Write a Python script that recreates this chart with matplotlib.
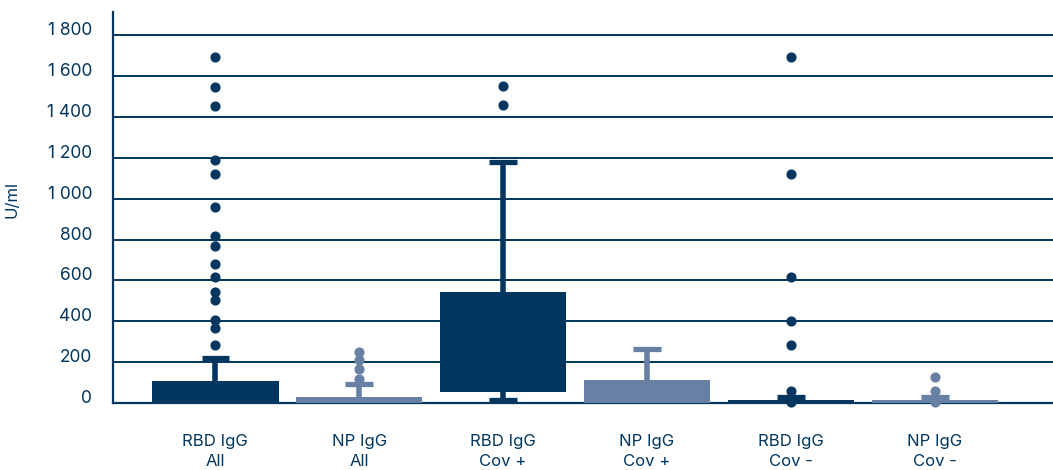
import matplotlib
matplotlib.use("Agg")
import matplotlib.pyplot as plt

# ---- data ----
categories = ["RBD IgG\nAll", "NP IgG\nAll", "RBD IgG\nCov +", "NP IgG\nCov +", "RBD IgG\nCov -", "NP IgG\nCov -"]
q1 = [0, 0, 55, 0, 0, 0]
q3 = [109, 29, 544, 114, 16, 16]
medians = [40, 10, 250, 40, 5, 5]
whislo = [0, 0, 16, 0, 0, 0]
whishi = [220, 93, 1179, 262, 29, 29]
fliers = [
    [1693, 1548, 1455, 1188, 1121, 958, 819, 769, 679, 617, 544, 506, 404, 365, 285],
    [252, 210, 168, 117],
    [1550, 1457],
    [],
    [1693, 1121, 617, 402, 284, 57, 3],
    [127, 57, 3],
]
yticks = [0, 200, 400, 600, 800, 1000, 1200, 1400, 1600, 1800]
ytick_labels = ["0", "200", "400", "600", "800", "1 000", "1 200", "1 400", "1 600", "1 800"]
ylabel = "U/ml"

NAVY = "#02365E"
SLATE = "#6880A3"
colors = [NAVY, SLATE, NAVY, SLATE, NAVY, SLATE]

plt.rcParams["font.family"] = ["Inter", "DejaVu Sans"]

fig = plt.figure(figsize=(10.53, 4.70), dpi=100)
ax = fig.add_axes([113 / 1053, 67 / 470, 1 - 113 / 1053, (458.3 - 67) / 470])

for yv in yticks[1:]:
    ax.axhline(yv, color=NAVY, lw=1.4, zorder=0)

stats = []
for i in range(len(categories)):
    stats.append(dict(q1=q1[i], q3=q3[i], med=medians[i], whislo=whislo[i],
                      whishi=whishi[i], fliers=fliers[i], label=categories[i]))

for i, st in enumerate(stats):
    c = colors[i]
    art = ax.bxp([st], positions=[i], widths=0.88, patch_artist=True,
                 showfliers=True, capwidths=0.19,
                 boxprops=dict(facecolor=c, edgecolor=c, linewidth=0),
                 whiskerprops=dict(color=c, linewidth=4.0, solid_capstyle="butt"),
                 capprops=dict(color=c, linewidth=3.8, solid_capstyle="butt"),
                 medianprops=dict(color=c, linewidth=0),
                 flierprops=dict(marker="o", markerfacecolor=c, markeredgecolor=c, markersize=6.3),
                 manage_ticks=False, zorder=3)
    for fl in art["fliers"]:
        fl.set_clip_on(False)
        fl.set_zorder(4)

ax.set_xlim(-0.71, 5.82)
ax.set_ylim(0, 1916)
ax.set_xticks(range(len(categories)))
ax.set_xticklabels(categories, fontsize=12, color=NAVY, linespacing=1.45)
ax.set_yticks(yticks)
ax.set_yticklabels(ytick_labels, fontsize=12.5, color=NAVY)
for lab in ax.get_yticklabels():
    lab.set_va("baseline")
ax.tick_params(axis="y", length=0, pad=15)
ax.tick_params(axis="x", length=0, pad=22)

for s in ["top", "right"]:
    ax.spines[s].set_visible(False)
ax.spines["left"].set_color(NAVY)
ax.spines["left"].set_linewidth(1.6)
ax.spines["bottom"].set_color(NAVY)
ax.spines["bottom"].set_linewidth(1.6)

ax.set_ylabel(ylabel, fontsize=12, color=NAVY)
ax.yaxis.set_label_coords(-94 / 940, (403 - 200) / 391.3)

fig.savefig("out.png", dpi=100)
